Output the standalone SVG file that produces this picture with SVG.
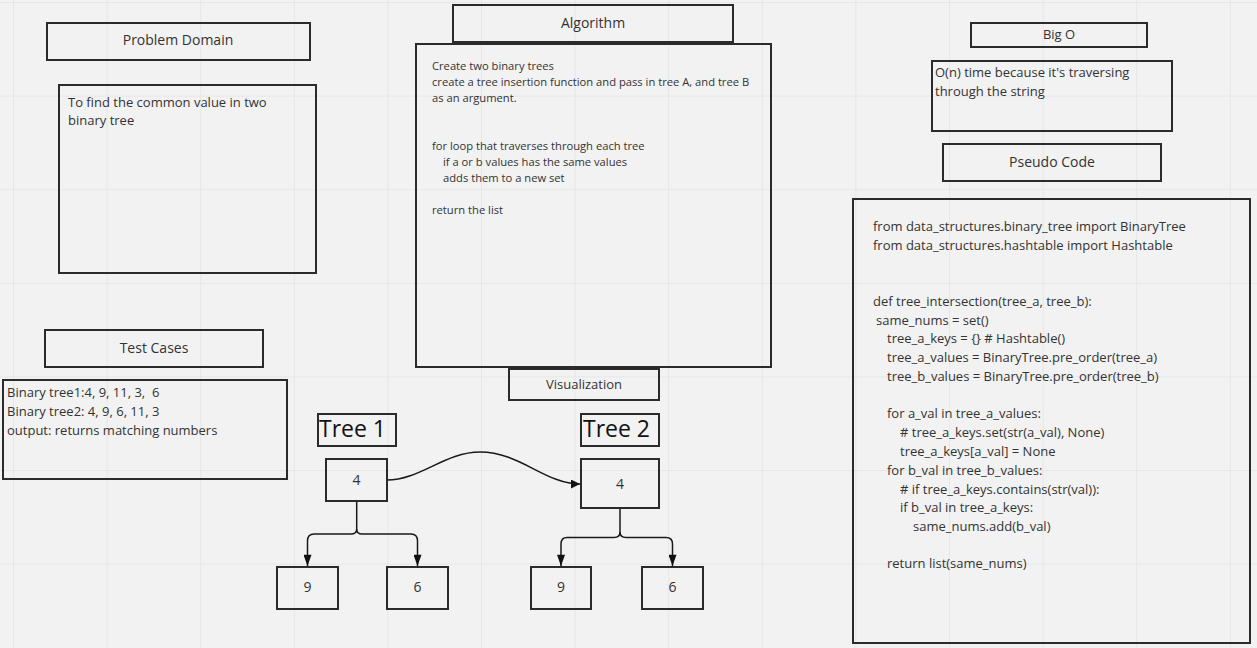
<svg xmlns="http://www.w3.org/2000/svg" width="1257" height="648" viewBox="0 0 1257 648">
<defs>
<pattern id="grid" x="13" y="2" width="93.6" height="93.6" patternUnits="userSpaceOnUse">
<path d="M0 0 V93.6 M0 0 H93.6" fill="none" stroke="#e3e3e3" stroke-width="1.5"/>
</pattern>
<marker id="arr" viewBox="0 0 10 10" refX="10" refY="5" markerWidth="9" markerHeight="9" markerUnits="userSpaceOnUse" orient="auto">
<path d="M0 0 L10 5 L0 10 Z" fill="#111"/>
</marker>
<marker id="arrd" viewBox="0 0 10 14" refX="5" refY="14" markerWidth="8" markerHeight="12" markerUnits="userSpaceOnUse" orient="0">
<path d="M0 0 L10 0 L5 14 Z" fill="#111"/>
</marker>
</defs>
<style>
.box{fill:none;stroke:#2b2b2b;stroke-width:2}
.t{font-family:"Open Sans","Liberation Sans",sans-serif;fill:#333}
.h{font-size:14px;text-anchor:middle}
.b{font-size:13px}
.s{font-size:11.2px}
.c{font-size:13px}
.big{font-size:23px;fill:#111}
.n{font-size:14px;text-anchor:middle}
.con{fill:none;stroke:#1a1a1a;stroke-width:1.5}
</style>
<rect width="1257" height="648" fill="#f2f2f2"/>
<rect width="1257" height="648" fill="url(#grid)"/>

<g id="problem-domain-header">
<rect class="box" x="47" y="23" width="263" height="37"/>
<text class="t h" x="178" y="45">Problem Domain</text>
</g>
<g id="problem-domain">
<rect class="box" x="59" y="85" width="257" height="188"/>
<text class="t b" x="68" y="107">To find the common value in two</text>
<text class="t b" x="68" y="125">binary tree</text>
</g>

<g id="algorithm-header">
<rect class="box" x="453" y="5" width="280" height="37"/>
<text class="t h" x="593" y="28">Algorithm</text>
</g>
<g id="algorithm">
<rect class="box" x="416" y="44" width="355" height="323"/>
<text class="t s" x="432" y="70">Create two binary trees</text>
<text class="t s" x="432" y="86">create a tree insertion function and pass in tree A, and tree B</text>
<text class="t s" x="432" y="102">as an argument.</text>
<text class="t s" x="432" y="150">for loop that traverses through each tree</text>
<text class="t s" x="443" y="166">if a or b values has the same values</text>
<text class="t s" x="443" y="182">adds them to a new set</text>
<text class="t s" x="432" y="214">return the list</text>
</g>

<g id="big-o-header">
<rect class="box" x="971" y="23" width="176" height="24"/>
<text class="t h" x="1059" y="39" style="font-size:13px">Big O</text>
</g>
<g id="big-o">
<rect class="box" x="932" y="61" width="240" height="70"/>
<text class="t b" x="935" y="77">O(n) time because it's traversing</text>
<text class="t b" x="935" y="96">through the string</text>
</g>

<g id="pseudo-code-header">
<rect class="box" x="943" y="144" width="218" height="37"/>
<text class="t h" x="1052" y="167">Pseudo Code</text>
</g>
<g id="pseudo-code">
<rect class="box" x="853" y="199" width="397" height="444"/>
<text class="t c" x="873" y="231">from data_structures.binary_tree import BinaryTree</text>
<text class="t c" x="873" y="250">from data_structures.hashtable import Hashtable</text>
<text class="t c" x="873" y="306">def tree_intersection(tree_a, tree_b):</text>
<text class="t c" x="876" y="325">same_nums = set()</text>
<text class="t c" x="887" y="343">tree_a_keys = {} # Hashtable()</text>
<text class="t c" x="887" y="362">tree_a_values = BinaryTree.pre_order(tree_a)</text>
<text class="t c" x="887" y="381">tree_b_values = BinaryTree.pre_order(tree_b)</text>
<text class="t c" x="887" y="418">for a_val in tree_a_values:</text>
<text class="t c" x="900" y="437"># tree_a_keys.set(str(a_val), None)</text>
<text class="t c" x="900" y="456">tree_a_keys[a_val] = None</text>
<text class="t c" x="887" y="475">for b_val in tree_b_values:</text>
<text class="t c" x="900" y="494"># if tree_a_keys.contains(str(val)):</text>
<text class="t c" x="900" y="512">if b_val in tree_a_keys:</text>
<text class="t c" x="913" y="531">same_nums.add(b_val)</text>
<text class="t c" x="887" y="568">return list(same_nums)</text>
</g>

<g id="test-cases-header">
<rect class="box" x="45" y="330" width="218" height="37"/>
<text class="t h" x="154" y="353">Test Cases</text>
</g>
<g id="test-cases">
<rect class="box" x="3" y="380" width="284" height="99"/>
<text class="t b" x="7" y="397" xml:space="preserve">Binary tree1:4, 9, 11, 3,  6</text>
<text class="t b" x="7" y="416">Binary tree2: 4, 9, 6, 11, 3</text>
<text class="t b" x="7" y="435">output: returns matching numbers</text>
</g>

<g id="visualization-header">
<rect class="box" x="509" y="369" width="150" height="31"/>
<text class="t h" x="584" y="389" style="font-size:13px">Visualization</text>
</g>

<g id="tree1-label">
<rect class="box" x="318" y="414" width="78" height="32"/>
<text class="t big" x="319" y="437">Tree 1</text>
</g>
<g id="tree2-label">
<rect class="box" x="581" y="414" width="78" height="32"/>
<text class="t big" x="583" y="437">Tree 2</text>
</g>

<g id="t1-root">
<rect class="box" x="326" y="459" width="61" height="42"/>
<text class="t n" x="356.5" y="485">4</text>
</g>
<g id="t1-left">
<rect class="box" x="277" y="567" width="61" height="42"/>
<text class="t n" x="307.5" y="592">9</text>
</g>
<g id="t1-right">
<rect class="box" x="387" y="567" width="61" height="42"/>
<text class="t n" x="417.5" y="592">6</text>
</g>
<g id="t2-root">
<rect class="box" x="581" y="459" width="78" height="49"/>
<text class="t n" x="620" y="489">4</text>
</g>
<g id="t2-left">
<rect class="box" x="531" y="567" width="60" height="42"/>
<text class="t n" x="561" y="592">9</text>
</g>
<g id="t2-right">
<rect class="box" x="642" y="567" width="61" height="42"/>
<text class="t n" x="672.5" y="592">6</text>
</g>

<g id="connectors">
<path class="con" d="M356.7 502 V529 Q356.7 534 351 534 H314 Q307.5 534 307.5 541 V566" marker-end="url(#arrd)"/>
<path class="con" d="M356.7 529 Q356.7 534 362 534 H411 Q417.5 534 417.5 541 V566" marker-end="url(#arrd)"/>
<path class="con" d="M620 509 V532 Q620 537.5 614 537.5 H567 Q561 537.5 561 544 V566" marker-end="url(#arrd)"/>
<path class="con" d="M620 532 Q620 537.5 626 537.5 H666 Q672.5 537.5 672.5 544 V566" marker-end="url(#arrd)"/>
<path class="con" d="M387 480 C 420 480, 445 452, 480 452 C 520 452, 545 484, 580 484" marker-end="url(#arr)"/>
</g>
</svg>
